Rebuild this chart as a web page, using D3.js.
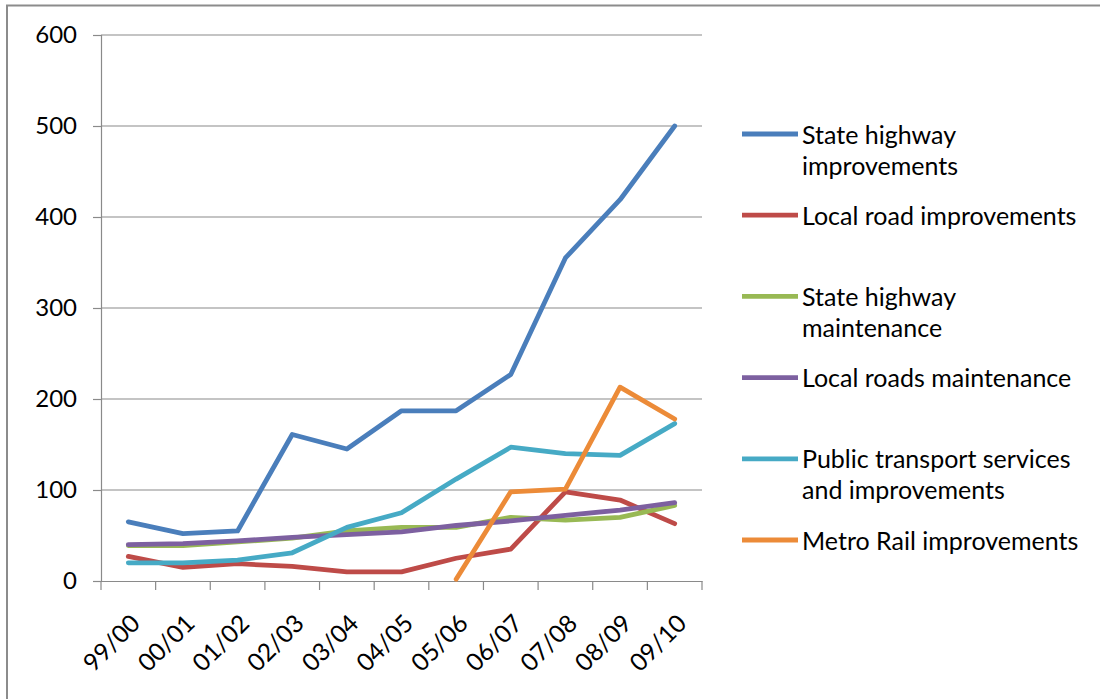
<!DOCTYPE html>
<html>
<head>
<meta charset="utf-8">
<script src="https://cdn.jsdelivr.net/npm/d3@7"></script>
<style>
  body { margin:0; background:#fff; }
  svg text { font-family: Lato, "Open Sans", sans-serif; fill:#000; }
</style>
</head>
<body>
<svg id="chart" width="1100" height="699"></svg>
<script>
const years = ['99/00','00/01','01/02','02/03','03/04','04/05','05/06','06/07','07/08','08/09','09/10'];
const yTicks = [0,100,200,300,400,500,600];

const stateHwyImpr  = [65,52,55,161,145,187,187,227,355,419,500];
const localRoadImpr = [27,15,19,16,10,10,25,35,98,89,63];
const stateHwyMaint = [39,39,43,47,55,59,59,70,67,70,83];
const localRoadMaint= [40,41,44,48,51,54,61,66,72,78,86];
const publicTrans   = [20,20,23,31,59,75,112,147,140,138,173];
const metroRail     = [null,null,null,null,null,null,2,98,101,213,178];

const series = [
  {name:['State highway','improvements'], color:'#4a7ebb', values:stateHwyImpr},
  {name:['Local road improvements'],      color:'#be4b48', values:localRoadImpr},
  {name:['State highway','maintenance'],  color:'#98b954', values:stateHwyMaint},
  {name:['Local roads maintenance'],      color:'#7d60a0', values:localRoadMaint},
  {name:['Public transport services','and improvements'], color:'#46aac5', values:publicTrans},
  {name:['Metro Rail improvements'],      color:'#ec8b38', values:metroRail}
];

const svg = d3.select('#chart');
const plot = {left:101, right:702, top:35, bottom:581};

// outer frame (only top & left edges are visible in the original)
svg.append('path').attr('d','M7,700 V5.5 H1100')
   .attr('fill','none').attr('stroke','#8c8c8c').attr('stroke-width',2);

const x = d3.scaleBand().domain(years).range([plot.left, plot.right]);
const y = d3.scaleLinear().domain([0,600]).range([plot.bottom, plot.top]);

// gridlines
svg.append('g').selectAll('line').data(yTicks.filter(d=>d>0)).join('line')
   .attr('x1',plot.left).attr('x2',plot.right)
   .attr('y1',d=>y(d)).attr('y2',d=>y(d))
   .attr('stroke','#8a8a8a').attr('stroke-width',1.2);

// y axis
const yAxis = svg.append('g').attr('transform',`translate(${plot.left},0)`)
   .call(d3.axisLeft(y).tickValues(yTicks).tickSize(8).tickPadding(16));
yAxis.select('.domain').attr('stroke','#8a8a8a').attr('stroke-width',1.2);
yAxis.selectAll('.tick line').attr('stroke','#8a8a8a').attr('stroke-width',1.2);
yAxis.selectAll('text').style('font-size','24px').attr('fill','#000');

// x axis
const xAxis = svg.append('g').attr('transform',`translate(0,${plot.bottom})`)
   .call(d3.axisBottom(x).tickSize(0).tickSizeOuter(0));
xAxis.select('.domain').attr('stroke','#8a8a8a').attr('stroke-width',1.2);
xAxis.selectAll('.tick line').remove();
const edges = years.map(d=>x(d)).concat([plot.right]);
xAxis.selectAll('line.edge').data(edges).join('line').attr('class','edge')
   .attr('x1',d=>d).attr('x2',d=>d).attr('y1',0).attr('y2',9)
   .attr('stroke','#8a8a8a').attr('stroke-width',1.2);
xAxis.selectAll('.tick text')
   .style('font-size','24.5px').attr('fill','#000')
   .attr('text-anchor','end')
   .attr('transform',`translate(${x.bandwidth()/2 - 27},31) rotate(-45)`)
   .attr('x',0).attr('y',0).attr('dy','0.75em');

// lines
const line = d3.line()
   .defined(d=>d != null)
   .x((d,i)=>x(years[i]) + x.bandwidth()/2)
   .y(d=>y(d));

svg.append('g').selectAll('path').data(series).join('path')
   .attr('d',d=>line(d.values))
   .attr('fill','none')
   .attr('stroke',d=>d.color)
   .attr('stroke-width',4.8)
   .attr('stroke-linejoin','round')
   .attr('stroke-linecap','round');

// legend
const legend = svg.append('g');
const lg = legend.selectAll('g').data(series).join('g')
   .attr('transform',(d,i)=>`translate(742,${134 + i*81.2})`);
lg.append('line').attr('x1',0).attr('x2',56).attr('y1',0).attr('y2',0)
   .attr('stroke',d=>d.color).attr('stroke-width',4.8);
lg.append('text').attr('x',60).attr('y',0)
   .style('font-size','25px')
   .selectAll('tspan').data(d=>d.name).join('tspan')
   .attr('x',60).attr('dy',(t,i)=> i===0 ? '0.38em' : '1.24em')
   .text(t=>t);
</script>
</body>
</html>
